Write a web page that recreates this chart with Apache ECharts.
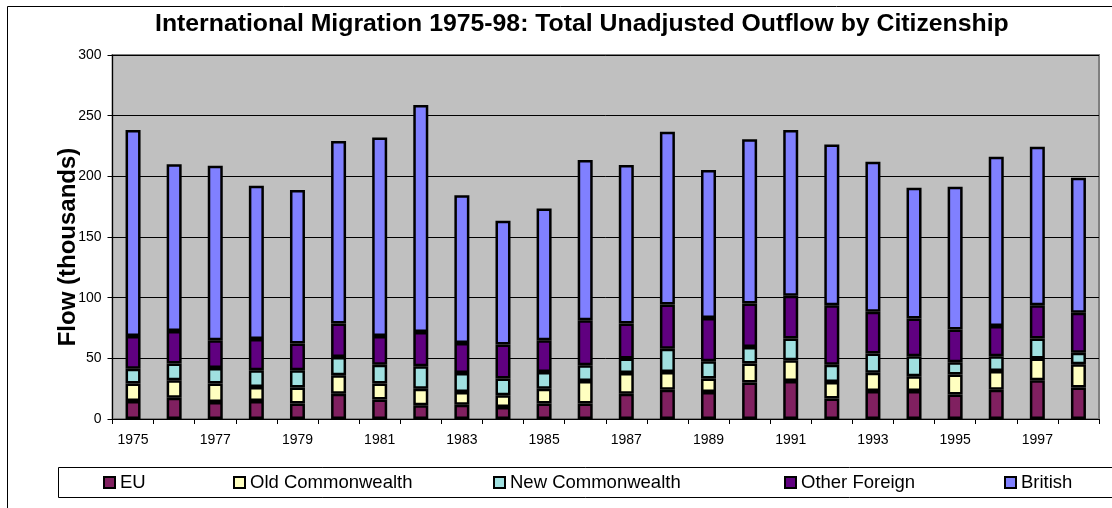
<!DOCTYPE html>
<html>
<head>
<meta charset="utf-8">
<script src="https://cdn.jsdelivr.net/npm/echarts@6/dist/echarts.min.js"></script>
<style>
html,body{margin:0;padding:0;background:#fff;}
#chart{width:1112px;height:508px;}
</style>
</head>
<body>
<div id="chart"></div>
<script>
var years = ['1975','1976','1977','1978','1979','1980','1981','1982','1983','1984','1985','1986','1987','1988','1989','1990','1991','1992','1993','1994','1995','1996','1997','1998'];
var eu = [14.9,17.6,14.0,14.9,12.7,20.9,16.0,11.3,11.8,9.9,12.7,12.7,20.9,24.2,22.3,30.0,31.4,16.8,23.1,23.1,20.1,24.2,31.9,25.9];
var oldCommonwealth = [14.3,14.3,15.2,11.5,13.2,15.1,13.2,13.7,10.5,9.6,12.3,18.7,17.1,14.6,11.0,15.7,17.0,13.7,15.1,12.1,16.5,15.4,17.9,19.2];
var newCommonwealth = [12.3,13.8,12.9,13.8,14.3,15.2,15.6,18.5,15.7,13.8,13.8,12.9,11.8,19.2,14.3,13.7,17.9,14.3,15.7,16.5,10.2,12.1,16.5,9.4];
var otherForeign = [27.0,26.9,22.8,25.8,22.0,27.5,23.7,28.3,24.7,28.0,26.1,37.1,28.9,36.3,35.7,35.8,35.2,49.0,34.4,31.1,26.9,25.0,27.5,33.0];
var british = [169.7,137.4,143.8,126.2,126.5,150.4,163.6,187.0,121.8,102.1,108.6,132.0,130.6,142.5,121.9,135.3,136.7,132.5,123.7,107.8,117.7,139.5,130.6,111.3];
var seriesNames = ['EU','Old Commonwealth','New Commonwealth','Other Foreign','British'];
var seriesColors = ['#802060','#FFFFC0','#A0E0E0','#600080','#8080FF'];
var titleText = 'International Migration 1975-98: Total Unadjusted Outflow by Citizenship';
var yTitle = 'Flow (thousands)';

var FONT = '"Liberation Sans", Arial, sans-serif';
var chart = echarts.init(document.getElementById('chart'), null, {renderer:'canvas'});
var dataArr = [eu, oldCommonwealth, newCommonwealth, otherForeign, british];
var legendLefts = [103, 233, 493, 784, 1004];

var series = seriesNames.map(function(n, i){
  return {
    name: n, type: 'bar', stack: 'total', data: dataArr[i],
    barWidth: 15,
    itemStyle: {color: seriesColors[i], borderColor: '#000', borderWidth: 2.5},
    emphasis: {disabled: true}
  };
});

var legends = seriesNames.map(function(n, i){
  return {
    data: [n], left: legendLefts[i], top: 473, padding: 0,
    itemWidth: 11, itemHeight: 11, icon: 'rect',
    itemStyle: {borderColor: '#000', borderWidth: 2},
    textStyle: {fontFamily: FONT, fontSize: 18.5, color: '#000'},
    selectedMode: false
  };
});

chart.setOption({
  animation: false,
  backgroundColor: '#fff',
  title: {
    text: titleText, left: 155, top: 12, padding: 0,
    textStyle: {fontFamily: FONT, fontSize: 24.8, fontWeight: 'bold', color: '#000'}
  },
  legend: legends,
  graphic: [
    {type:'rect', z: -10, silent:true, shape:{x:7.5, y:6.5, width:1200, height:600}, style:{fill:'#fff', stroke:'#000', lineWidth:1}},
    {type:'rect', z: -5, silent:true, shape:{x:58.5, y:467.5, width:1100, height:30}, style:{fill:'#fff', stroke:'#000', lineWidth:1}},
    {type:'text', silent:true, x: 68, y: 247, rotation: Math.PI/2,
     style:{text: yTitle, font: 'bold 24px ' + FONT, fill:'#000', textAlign:'center', textVerticalAlign:'middle'}}
  ],
  grid: {
    left: 112.5, right: 13, top: 55, bottom: 89,
    show: true, backgroundColor: '#C0C0C0', borderColor: '#808080', borderWidth: 2
  },
  xAxis: {
    type: 'category', data: years, boundaryGap: true,
    axisLine: {show: true, lineStyle: {color: '#000', width: 1}},
    axisTick: {show: true, interval: 0, length: 5, lineStyle: {color: '#000'}},
    axisLabel: {interval: 1, margin: 14, fontFamily: FONT, fontSize: 14, color: '#000'},
    splitLine: {show: false}
  },
  yAxis: {
    type: 'value', min: 0, max: 300, interval: 50,
    axisLine: {show: true, lineStyle: {color: '#000', width: 1}},
    axisTick: {show: true, length: 5, lineStyle: {color: '#000'}},
    axisLabel: {margin: 11, fontFamily: FONT, fontSize: 14, color: '#000'},
    splitLine: {show: true, lineStyle: {color: '#000', width: 1}}
  },
  series: series
});
</script>
</body>
</html>
